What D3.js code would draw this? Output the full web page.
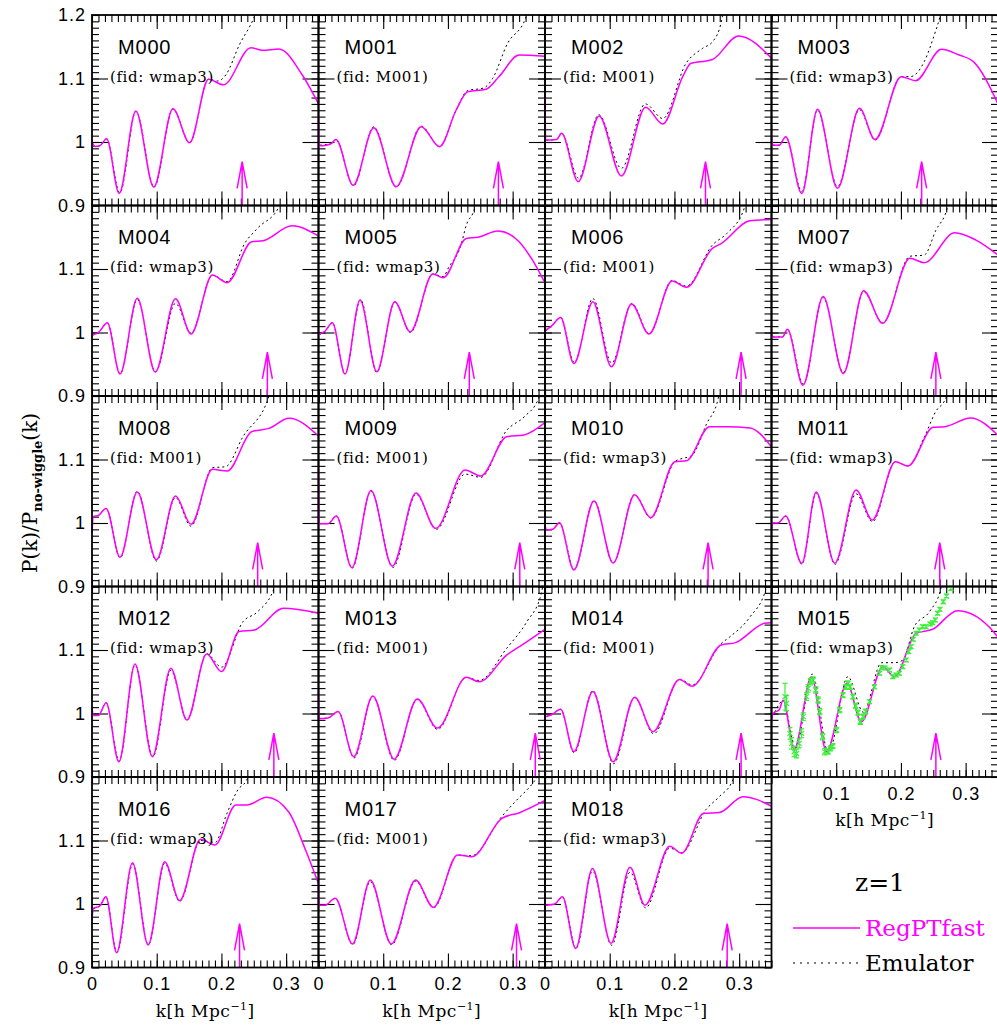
<!DOCTYPE html>
<html>
<head>
<meta charset="utf-8">
<script src="https://cdn.jsdelivr.net/npm/d3@7"></script>
<style>
body { margin: 0; background: #fff; }
.tick text { font-family: "Liberation Sans", Arial, sans-serif; font-size: 18px; letter-spacing: 1px; fill: #000; }
</style>
</head>
<body>
<script>
var width = 997;
var height = 1030;
var left = 92, top0 = 15;
var pw = 226.5, ph = 190.5;

var models = ["M000","M001","M002","M003","M004","M005","M006","M007","M008","M009",
              "M010","M011","M012","M013","M014","M015","M016","M017","M018"];
var fiducials = ["wmap3","M001","M001","wmap3","wmap3","wmap3","M001","wmap3","M001","M001",
                 "wmap3","wmap3","wmap3","M001","M001","wmap3","wmap3","M001","wmap3"];
// k of the magenta arrow in each panel
var arrowK = [0.232,0.278,0.248,0.232,0.271,0.233,0.303,0.254,0.256,0.311,
              0.252,0.26,0.281,0.335,0.303,0.254,0.228,0.306,0.2815];

var yTicks = [0.9, 1.0, 1.1, 1.2];
var xTicks = [0, 0.1, 0.2, 0.3];

// RegPTfast curves, [k, P/Pnw]
var regptfast = [
 [[0,1.0],[0.005,0.993],[0.012,0.994],[0.0226,1.005],[0.042,0.919],[0.0677,1.049],[0.0954,0.929],[0.125,1.0525],[0.1508,0.999],[0.18,1.099],[0.203,1.09],[0.2457,1.1485],[0.2636,1.1444],[0.289,1.1465],[0.325,1.1055],[0.35,1.06]],
 [[0,1.043],[0.001,0.994],[0.012,0.995],[0.0203,0.998],[0.027,1.004],[0.0536,0.932],[0.0854,1.0225],[0.12,0.9297],[0.1588,1.024],[0.187,0.9926],[0.2126,1.05],[0.2305,1.079],[0.2588,1.083],[0.279,1.103],[0.31,1.137],[0.35,1.135]],
 [[0,1.074],[0.001,1.003],[0.018,1.004],[0.0256,1.0137],[0.0513,0.9375],[0.0836,1.041],[0.118,0.9465],[0.1554,1.0546],[0.182,1.0283],[0.2128,1.1028],[0.2256,1.124],[0.2487,1.1276],[0.2589,1.13],[0.299,1.167],[0.35,1.132]],
 [[0,1.01],[0.002,0.995],[0.012,0.995],[0.0219,1.0084],[0.0468,0.919],[0.0711,1.0514],[0.102,0.927],[0.136,1.053],[0.16,1.004],[0.2003,1.1029],[0.2226,1.0966],[0.2627,1.146],[0.29,1.137],[0.312,1.1265],[0.35,1.06]],
 [[0,0.996],[0.01,1.0],[0.0236,1.0155],[0.0433,0.9346],[0.07,1.0538],[0.0977,0.9378],[0.129,1.0533],[0.153,0.9977],[0.186,1.0906],[0.209,1.0785],[0.2467,1.143],[0.2645,1.1446],[0.309,1.168],[0.35,1.152]],
 [[0,0.997],[0.01,1.002],[0.0214,1.0155],[0.041,0.9346],[0.0642,1.051],[0.0901,0.9383],[0.1178,1.0486],[0.1418,1.001],[0.1766,1.092],[0.1927,1.0863],[0.2284,1.148],[0.246,1.1499],[0.2775,1.16],[0.31,1.143],[0.33,1.115],[0.35,1.078]],
 [[0,1.003],[0.01,1.01],[0.0241,1.0238],[0.0446,0.951],[0.074,1.0486],[0.1026,0.946],[0.1338,1.0449],[0.1606,0.9976],[0.1963,1.081],[0.2186,1.0712],[0.2587,1.1325],[0.2721,1.14],[0.3167,1.176],[0.35,1.178]],
 [[0,1.0],[0.002,0.993],[0.017,0.993],[0.0245,1.005],[0.0486,0.917],[0.0798,1.0565],[0.111,0.9353],[0.1423,1.0658],[0.1717,1.0144],[0.2137,1.1168],[0.236,1.11],[0.2832,1.157],[0.316,1.1455],[0.35,1.122]],
 [[0,0.984],[0.002,1.01],[0.01,1.012],[0.0218,1.023],[0.0433,0.946],[0.07,1.049],[0.0995,0.942],[0.129,1.0425],[0.153,0.998],[0.186,1.0845],[0.209,1.082],[0.2467,1.1438],[0.2735,1.149],[0.3047,1.1648],[0.35,1.137]],
 [[0,1.085],[0.001,0.999],[0.015,0.999],[0.0276,1.011],[0.0516,0.9297],[0.0811,1.051],[0.114,0.932],[0.1507,1.0472],[0.181,0.9916],[0.2266,1.0835],[0.2507,1.074],[0.2908,1.136],[0.3176,1.1386],[0.35,1.158]],
 [[0,0.998],[0.002,0.989],[0.012,0.99],[0.0223,1.0005],[0.0446,0.926],[0.0758,1.0346],[0.1053,0.937],[0.1385,1.0446],[0.1633,1.0084],[0.2007,1.0966],[0.2186,1.098],[0.2542,1.1517],[0.281,1.1517],[0.3167,1.1496],[0.35,1.12]],
 [[0,0.989],[0.002,1.0],[0.01,1.0],[0.0219,1.011],[0.0468,0.9365],[0.0691,1.049],[0.0977,0.9365],[0.1307,1.052],[0.1557,1.0047],[0.1914,1.0966],[0.211,1.0898],[0.2497,1.1507],[0.2676,1.1517],[0.3077,1.1654],[0.35,1.138]],
 [[0,1.01],[0.002,0.997],[0.01,0.997],[0.0218,1.017],[0.0415,0.924],[0.0665,1.078],[0.0933,0.932],[0.1218,1.0713],[0.1467,0.9897],[0.1771,1.0937],[0.2003,1.066],[0.2271,1.129],[0.2511,1.1315],[0.2957,1.1656],[0.35,1.158]],
 [[0,1.032],[0.001,0.992],[0.015,0.993],[0.0303,1.003],[0.0544,0.932],[0.0839,1.0277],[0.117,0.928],[0.1526,1.023],[0.1838,0.977],[0.2284,1.057],[0.248,1.05],[0.2908,1.092],[0.3176,1.11],[0.35,1.1325]],
 [[0,0.995],[0.01,0.998],[0.0241,1.0065],[0.0446,0.94],[0.074,1.0346],[0.1053,0.924],[0.1385,1.0257],[0.167,0.9714],[0.2078,1.0537],[0.2275,1.043],[0.2721,1.108],[0.2944,1.1116],[0.339,1.142],[0.35,1.143]],
 [[0,0.985],[0.002,1.0],[0.012,1.006],[0.018,1.021],[0.035,0.944],[0.0618,1.058],[0.085,0.94],[0.1167,1.0475],[0.1388,0.987],[0.172,1.0737],[0.19,1.058],[0.2234,1.1263],[0.249,1.1326],[0.2874,1.162],[0.336,1.1367],[0.35,1.12]],
 [[0,0.975],[0.002,0.993],[0.0123,0.997],[0.0215,1.0115],[0.038,0.9233],[0.0626,1.065],[0.0867,0.9354],[0.1123,1.0666],[0.1354,1.0052],[0.1676,1.102],[0.19,1.093],[0.2222,1.156],[0.2393,1.156],[0.27,1.168],[0.304,1.145],[0.33,1.085],[0.35,1.032]],
 [[0,1.03],[0.001,0.998],[0.01,0.998],[0.026,1.0089],[0.0526,0.937],[0.08,1.0378],[0.1126,0.937],[0.15,1.0378],[0.1775,0.9948],[0.215,1.0772],[0.2369,1.0745],[0.2833,1.1349],[0.3106,1.1438],[0.35,1.163]],
 [[0,0.998],[0.015,1.0],[0.0269,1.0116],[0.0474,0.93],[0.0734,1.056],[0.102,0.938],[0.1313,1.0577],[0.1545,0.998],[0.1928,1.091],[0.2112,1.08],[0.2453,1.143],[0.2692,1.144],[0.306,1.169],[0.35,1.154]]
];

// Emulator curves, [k, P/Pnw]
var emulator = [
 [[0.002,0.993],[0.012,0.994],[0.0226,1.005],[0.043,0.92],[0.068,1.048],[0.096,0.929],[0.125,1.052],[0.151,0.999],[0.18,1.099],[0.194,1.096],[0.207,1.106],[0.2277,1.153],[0.25,1.195],[0.256,1.21]],
 [[0.002,0.995],[0.0203,0.998],[0.027,1.004],[0.054,0.931],[0.0854,1.024],[0.12,0.929],[0.1588,1.025],[0.187,0.993],[0.2126,1.05],[0.2305,1.081],[0.255,1.085],[0.269,1.1],[0.292,1.155],[0.32,1.195],[0.325,1.21]],
 [[0.002,1.003],[0.018,1.004],[0.0256,1.0137],[0.052,0.943],[0.083,1.043],[0.118,0.9586],[0.155,1.06],[0.182,1.037],[0.218,1.124],[0.2436,1.1475],[0.259,1.158],[0.273,1.192],[0.276,1.21]],
 [[0.002,0.995],[0.012,0.995],[0.0219,1.0084],[0.047,0.922],[0.071,1.05],[0.102,0.93],[0.136,1.051],[0.16,1.003],[0.2003,1.1029],[0.215,1.103],[0.236,1.1265],[0.254,1.176],[0.263,1.205]],
 [[0.002,0.996],[0.01,1.0],[0.0236,1.0155],[0.0435,0.935],[0.07,1.052],[0.098,0.938],[0.129,1.046],[0.153,0.999],[0.186,1.09],[0.209,1.08],[0.236,1.1404],[0.2556,1.164],[0.2895,1.199],[0.292,1.21]],
 [[0.002,0.997],[0.01,1.002],[0.0214,1.0155],[0.041,0.935],[0.065,1.052],[0.09,0.937],[0.118,1.048],[0.142,1.0],[0.1766,1.092],[0.1927,1.088],[0.2016,1.1035],[0.2194,1.135],[0.2284,1.169],[0.2418,1.198],[0.244,1.21]],
 [[0.002,1.003],[0.01,1.01],[0.0241,1.0238],[0.045,0.953],[0.074,1.0535],[0.103,0.952],[0.134,1.046],[0.161,0.998],[0.1963,1.082],[0.2186,1.073],[0.2587,1.1378],[0.281,1.156],[0.308,1.196],[0.31,1.21]],
 [[0.002,0.993],[0.017,0.993],[0.0245,1.005],[0.049,0.919],[0.0798,1.055],[0.111,0.937],[0.1423,1.064],[0.1717,1.015],[0.2137,1.12],[0.236,1.122],[0.254,1.161],[0.272,1.198],[0.274,1.21]],
 [[0.002,1.01],[0.01,1.012],[0.0218,1.023],[0.0435,0.945],[0.07,1.05],[0.0995,0.94],[0.129,1.04],[0.153,0.995],[0.186,1.087],[0.2065,1.0887],[0.2333,1.136],[0.2735,1.2],[0.276,1.21]],
 [[0.002,0.999],[0.015,0.999],[0.0276,1.011],[0.052,0.929],[0.081,1.05],[0.115,0.93],[0.1507,1.045],[0.182,0.99],[0.2266,1.077],[0.2507,1.072],[0.2908,1.146],[0.3176,1.167],[0.34,1.196],[0.345,1.21]],
 [[0.002,0.989],[0.012,0.99],[0.0223,1.0005],[0.045,0.927],[0.0758,1.035],[0.1053,0.937],[0.1385,1.045],[0.1633,1.008],[0.2007,1.097],[0.21,1.101],[0.2266,1.106],[0.2498,1.1564],[0.2676,1.196],[0.27,1.21]],
 [[0.002,1.0],[0.01,1.0],[0.0219,1.011],[0.047,0.935],[0.0691,1.047],[0.098,0.935],[0.1307,1.046],[0.156,1.002],[0.1914,1.096],[0.211,1.09],[0.236,1.135],[0.2537,1.1754],[0.2698,1.198],[0.272,1.21]],
 [[0.002,0.997],[0.01,0.997],[0.0218,1.017],[0.042,0.925],[0.0665,1.076],[0.094,0.932],[0.1218,1.068],[0.147,0.99],[0.1771,1.094],[0.2003,1.073],[0.2333,1.1446],[0.2556,1.16],[0.2823,1.2],[0.285,1.21]],
 [[0.002,0.992],[0.015,0.993],[0.0303,1.003],[0.055,0.93],[0.0839,1.027],[0.117,0.926],[0.1526,1.022],[0.184,0.975],[0.2284,1.057],[0.248,1.052],[0.2908,1.1026],[0.322,1.1446],[0.3443,1.189],[0.348,1.21]],
 [[0.002,0.995],[0.01,0.998],[0.0241,1.0065],[0.045,0.938],[0.074,1.036],[0.106,0.921],[0.1385,1.025],[0.168,0.968],[0.2078,1.054],[0.2275,1.045],[0.2721,1.11],[0.2855,1.1206],[0.3167,1.152],[0.3417,1.197],[0.344,1.21]],
 [[0.005,1.002],[0.018,1.02],[0.037,0.945],[0.063,1.062],[0.088,0.938],[0.118,1.058],[0.142,1.002],[0.17,1.08],[0.19,1.08],[0.2028,1.084],[0.2208,1.137],[0.2438,1.16],[0.2618,1.197],[0.264,1.21]],
 [[0.002,0.993],[0.0123,0.997],[0.0215,1.0115],[0.0385,0.924],[0.063,1.063],[0.087,0.936],[0.1123,1.064],[0.1354,1.004],[0.1676,1.1],[0.19,1.097],[0.2086,1.143],[0.2256,1.18],[0.239,1.195],[0.245,1.21]],
 [[0.002,0.998],[0.01,0.998],[0.026,1.0089],[0.053,0.936],[0.08,1.035],[0.113,0.936],[0.15,1.036],[0.178,0.994],[0.215,1.077],[0.2369,1.076],[0.2833,1.138],[0.3038,1.161],[0.331,1.19],[0.345,1.21]],
 [[0.002,0.998],[0.015,1.0],[0.0269,1.0116],[0.048,0.93],[0.0734,1.052],[0.103,0.935],[0.1313,1.05],[0.1555,0.994],[0.1928,1.088],[0.2112,1.081],[0.249,1.149],[0.2692,1.169],[0.29,1.195],[0.294,1.21]]
];

// simulation points shown in M015
var simK = [0.0208,0.0233,0.0285,0.031,0.035,0.0387,0.0428,0.0465,0.049,0.0541,0.0567,0.0603,0.0643,0.0685,0.072,0.0746,0.0788,0.0823,0.0874,0.091,
            0.095,0.1003,0.1054,0.1105,0.1146,0.1182,0.1218,0.1259,0.13,0.1336,0.1372,0.1413,0.1454,0.1515,0.1592,0.1669,0.1705,0.1756,0.1823,0.1874,
            0.1926,0.1977,0.2028,0.208,0.212,0.2157,0.2192,0.2234,0.2285,0.2335,0.2387,0.245,0.249,0.2531,0.2567,0.2603,0.2654,0.2705,0.2772];
var simRatio = [1.0265,1.016,0.9688,0.953,0.94,0.937,0.953,0.9688,0.995,1.0265,1.0397,1.05,1.0528,1.037,1.0213,1.003,0.9635,0.94,0.94,0.9452,
                0.9487,0.974,1.0055,1.029,1.042,1.0475,1.042,1.0265,1.012,1.0013,0.987,0.995,1.003,1.0186,1.042,1.0633,1.0725,1.0715,1.0685,1.058,
                1.0606,1.0633,1.0737,1.0843,1.0974,1.1052,1.1168,1.1263,1.1315,1.1367,1.1367,1.141,1.1431,1.1472,1.1578,1.164,1.176,1.185,1.197];
var simErr = [0.021,0.012,0.009,0.009,0.008,0.007,0.007,0.007,0.006,0.006,0.006,0.005,0.005,0.005,0.005,0.005,0.005,0.005,0.004,0.004,
              0.004,0.004,0.004,0.004,0.004,0.004,0.004,0.004,0.004,0.004,0.004,0.004,0.004,0.003,0.003,0.003,0.003,0.003,0.003,0.003,
              0.003,0.003,0.003,0.003,0.003,0.003,0.003,0.003,0.003,0.003,0.003,0.003,0.003,0.003,0.003,0.003,0.003,0.003,0.003];

var magenta = "#ff00ff";
var serif = "'DejaVu Serif', serif";
var sans = "'Liberation Sans', Arial, sans-serif";

var svg = d3.select("body").append("svg")
	.attr("width", width)
	.attr("height", height);

var x = d3.scaleLinear().domain([0, 0.35]).range([0, pw]);
var y = d3.scaleLinear().domain([0.9, 1.2]).range([ph, 0]);

var line = d3.line()
	.x(d => x(d[0]))
	.y(d => y(d[1]))
	.curve(d3.curveMonotoneX);

var minorX = d3.range(0, 36).map(i => i / 100);
var minorY = d3.range(90, 121).map(i => i / 100);
var fmt = d => String(+d.toFixed(2));

function ticks(g, axis, scale, vals, size) {
	g.call(axis(scale).tickValues(vals).tickSize(size).tickFormat(""))
		.call(s => s.select(".domain").remove())
		.selectAll("line").attr("stroke", "#000").attr("stroke-width", 1.1);
}

models.forEach(function(name, i) {
	var row = Math.floor(i / 4), col = i % 4;
	var g = svg.append("g")
		.attr("transform", "translate(" + (left + col * pw) + "," + (top0 + row * ph) + ")");

	g.append("clipPath").attr("id", "clip" + i)
		.append("rect").attr("x", -1).attr("y", 0).attr("width", pw + 1).attr("height", ph);

	// inward ticks on all four sides
	[[d3.axisBottom, x, minorX, 7, 0, 0], [d3.axisBottom, x, [0.1, 0.2, 0.3], 14, 0, 0],
	 [d3.axisTop, x, minorX, 7, 0, ph], [d3.axisTop, x, [0.1, 0.2, 0.3], 14, 0, ph],
	 [d3.axisRight, y, minorY, 7, 0, 0], [d3.axisRight, y, [1.0, 1.1], 16, 0, 0],
	 [d3.axisLeft, y, minorY, 7, pw, 0], [d3.axisLeft, y, [1.0, 1.1], 16, pw, 0]
	].forEach(function(t) {
		ticks(g.append("g").attr("transform", "translate(" + t[4] + "," + t[5] + ")"), t[0], t[1], t[2], t[3]);
	});

	var plot = g.append("g").attr("clip-path", "url(#clip" + i + ")");

	plot.append("path")
		.attr("d", line(emulator[i]))
		.attr("fill", "none")
		.attr("stroke", "#000")
		.attr("stroke-width", 1)
		.attr("stroke-dasharray", "2,3");

	plot.append("path")
		.attr("d", line(regptfast[i]))
		.attr("fill", "none")
		.attr("stroke", magenta)
		.attr("stroke-width", 1.5);

	// arrow
	var ax = x(arrowK[i]);
	g.append("path")
		.attr("d", "M" + ax + "," + y(0.9) + "V" + y(0.969) +
			"M" + (ax - 5) + "," + y(0.927) + "L" + ax + "," + y(0.969) + "L" + (ax + 5) + "," + y(0.927))
		.attr("fill", "none")
		.attr("stroke", magenta)
		.attr("stroke-width", 1.5);

	if (name === "M015") {
		var sim = g.append("g").attr("stroke", "#3cf03c").attr("stroke-width", 1.2).attr("fill", "none");
		simK.forEach(function(k, j) {
			var px = x(k), py = y(simRatio[j]);
			var y1 = y(simRatio[j] - simErr[j]), y2 = y(simRatio[j] + simErr[j]);
			sim.append("path").attr("d",
				"M" + px + "," + y1 + "V" + y2 +
				"M" + (px - 2.5) + "," + y1 + "H" + (px + 2.5) +
				"M" + (px - 2.5) + "," + y2 + "H" + (px + 2.5) +
				"M" + (px - 2.5) + "," + (py - 2.5) + "L" + (px + 2.5) + "," + (py + 2.5) +
				"M" + (px - 2.5) + "," + (py + 2.5) + "L" + (px + 2.5) + "," + (py - 2.5));
		});
	}

	g.append("text")
		.attr("x", 26).attr("y", 38.5)
		.attr("font-family", sans).attr("font-size", 20).attr("letter-spacing", 0.8)
		.text(name);

	g.append("text")
		.attr("x", 18).attr("y", 66.5)
		.attr("font-family", serif).attr("font-size", 15).attr("letter-spacing", 0.6)
		.text("(fid: " + fiducials[i] + ")");

	g.append("rect")
		.attr("width", pw).attr("height", ph)
		.attr("fill", "none").attr("stroke", "#000").attr("stroke-width", 1.8);

	// tick labels
	if (col === 0) {
		var yl = g.append("g").call(d3.axisLeft(y)
			.tickValues(row === 0 ? yTicks : [0.9, 1.0, 1.1])
			.tickSize(0).tickPadding(6).tickFormat(fmt));
		yl.select(".domain").remove();
	}
	if (row === 4 || name === "M015") {
		var xl = g.append("g").attr("transform", "translate(0," + ph + ")")
			.call(d3.axisBottom(x)
				.tickValues(name === "M015" ? [0.1, 0.2, 0.3] : xTicks)
				.tickSize(0).tickPadding(10).tickFormat(fmt));
		xl.select(".domain").remove();
		var xt = g.append("text")
			.attr("x", pw / 2).attr("y", ph + 49)
			.attr("text-anchor", "middle")
			.attr("font-family", serif).attr("font-size", 17).attr("letter-spacing", 0.5)
			.text("k[h Mpc");
		xt.append("tspan").attr("font-size", 11).attr("dy", -7).text("\u22121");
		xt.append("tspan").attr("dy", 7).text("]");
	}
});

// y axis title
var yt = svg.append("text")
	.attr("transform", "translate(37,493) rotate(-90)")
	.attr("text-anchor", "middle")
	.attr("font-family", serif).attr("font-size", 20)
	.text("P(k)/P");
yt.append("tspan").attr("dy", 5).attr("font-size", 13).attr("font-weight", "bold").text("no-wiggle");
yt.append("tspan").attr("dy", -5).text("(k)");

// legend
svg.append("text")
	.attr("x", 880).attr("y", 891)
	.attr("text-anchor", "middle")
	.attr("font-family", serif).attr("font-size", 25)
	.text("z=1");

svg.append("line")
	.attr("x1", 793).attr("x2", 860).attr("y1", 928).attr("y2", 928)
	.attr("stroke", magenta).attr("stroke-width", 1.5);
svg.append("text")
	.attr("x", 865).attr("y", 936)
	.attr("font-family", serif).attr("font-size", 23).attr("fill", magenta)
	.text("RegPTfast");

svg.append("line")
	.attr("x1", 793).attr("x2", 860).attr("y1", 963).attr("y2", 963)
	.attr("stroke", "#000").attr("stroke-width", 1).attr("stroke-dasharray", "2,5");
svg.append("text")
	.attr("x", 865).attr("y", 971)
	.attr("font-family", serif).attr("font-size", 23)
	.text("Emulator");
</script>
</body>
</html>
